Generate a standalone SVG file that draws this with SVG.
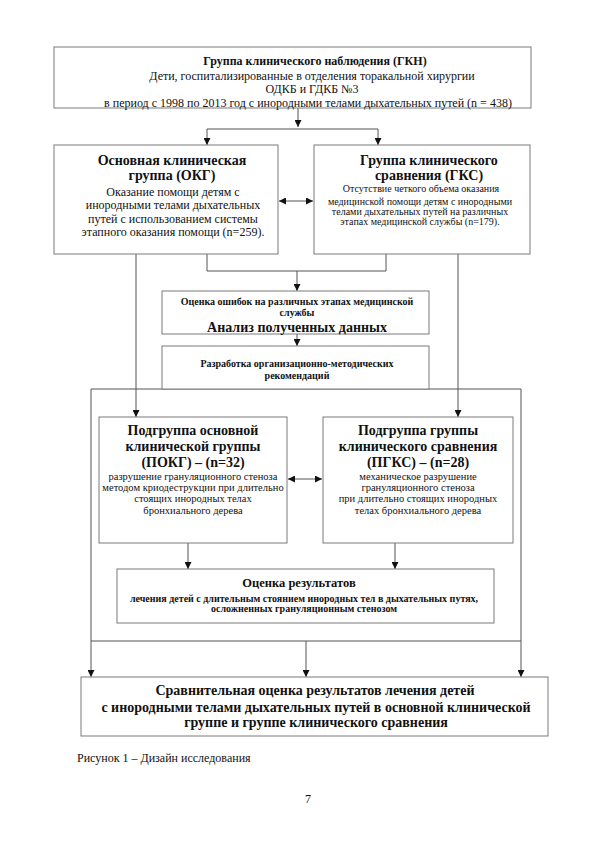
<svg xmlns="http://www.w3.org/2000/svg" width="594" height="841" viewBox="0 0 594 841">
<style>
.box{fill:#fff;stroke:#7a7a7a;stroke-width:1}
.ln{fill:none;stroke:#555;stroke-width:1}
.t{font-family:"Liberation Serif","Times New Roman",serif;fill:#111;text-anchor:middle}
.b{font-weight:bold}
.s12{font-size:12px}
.s125{font-size:12.5px}
.s10{font-size:10px}
.s105{font-size:10.5px}
.s14{font-size:14px}
</style>
<defs>
<marker id="ah" viewBox="0 0 8 8" refX="8" refY="4" markerWidth="7" markerHeight="7" markerUnits="userSpaceOnUse" orient="auto-start-reverse">
<path d="M0,0 L8,4 L0,8 z" fill="#111"/>
</marker>
</defs>
<rect width="594" height="841" fill="#fff"/>

<g id="connectors">
<path class="ln" d="M298,108 V127" marker-end="url(#ah)"/>
<path class="ln" d="M207,129 H378"/>
<path class="ln" d="M207,129 V145" marker-end="url(#ah)"/>
<path class="ln" d="M378,129 V145" marker-end="url(#ah)"/>
<path class="ln" d="M279,201 H313" marker-start="url(#ah)" marker-end="url(#ah)"/>
<path class="ln" d="M207,254 V271 H386 V254"/>
<path class="ln" d="M297,271 V291" marker-end="url(#ah)"/>
<path class="ln" d="M297,334 V346" marker-end="url(#ah)"/>
<path class="ln" d="M136,254 V417" marker-end="url(#ah)"/>
<path class="ln" d="M458,254 V417" marker-end="url(#ah)"/>
<path class="ln" d="M91,389 H521"/>
<path class="ln" d="M91,389 V677" marker-end="url(#ah)"/>
<path class="ln" d="M521,389 V677" marker-end="url(#ah)"/>
<path class="ln" d="M91,641 H521"/>
<path class="ln" d="M306,641 V677" marker-end="url(#ah)"/>
<path class="ln" d="M288,479 H322" marker-start="url(#ah)" marker-end="url(#ah)"/>
<path class="ln" d="M188,543 V569" marker-end="url(#ah)"/>
<path class="ln" d="M395,543 V569" marker-end="url(#ah)"/>
</g>

<g id="gkn">
<rect class="box" x="54" y="47" width="477" height="61"/>
<text class="t b s12" x="315" y="65">Группа клинического наблюдения (ГКН)</text>
<text class="t s12" x="312" y="80">Дети, госпитализированные в отделения торакальной хирургии</text>
<text class="t s12" x="312" y="93">ОДКБ и ГДКБ №3</text>
<text class="t s12" x="308" y="106.5">в период с 1998 по 2013 год с инородными телами дыхательных путей (n = 438)</text>
</g>

<g id="okg">
<rect class="box" x="54" y="145" width="224" height="109"/>
<text class="t b s14" x="172" y="165">Основная клиническая</text>
<text class="t b s14" x="172" y="180">группа (ОКГ)</text>
<text class="t s12" x="173" y="196">Оказание помощи детям с</text>
<text class="t s12" x="173" y="209">инородными телами дыхательных</text>
<text class="t s12" x="173" y="222.5">путей с использованием системы</text>
<text class="t s12" x="173" y="235.5">этапного оказания помощи (n=259).</text>
</g>

<g id="gks">
<rect class="box" x="314" y="145" width="216" height="109"/>
<text class="t b s14" x="429" y="165">Группа клинического</text>
<text class="t b s14" x="429" y="180">сравнения (ГКС)</text>
<text class="t s10" x="421" y="191.5">Отсутствие четкого объема оказания</text>
<text class="t s10" x="420" y="204.5">медицинской помощи детям с инородными</text>
<text class="t s10" x="420" y="214.5">телами дыхательных путей на различных</text>
<text class="t s10" x="420" y="225">этапах медицинской службы (n=179).</text>
</g>

<g id="errors">
<rect class="box" x="162" y="291" width="267" height="43"/>
<text class="t b s10" x="297" y="305">Оценка ошибок на различных этапах медицинской</text>
<text class="t b s10" x="297" y="316">службы</text>
<text class="t b s14" x="297" y="331.5">Анализ полученных данных</text>
</g>

<g id="recommendations">
<rect class="box" x="162" y="346" width="267" height="43"/>
<text class="t b s10" x="297" y="367">Разработка организационно-методических</text>
<text class="t b s10" x="297" y="379">рекомендаций</text>
</g>

<g id="pokg">
<rect class="box" x="99" y="417" width="188" height="126"/>
<text class="t b s14" x="193" y="434.5">Подгруппа основной</text>
<text class="t b s14" x="193" y="451">клинической группы</text>
<text class="t b s14" x="193" y="466.5">(ПОКГ) – (n=32)</text>
<text class="t s105" x="193" y="479.5">разрушение грануляционного стеноза</text>
<text class="t s105" x="193" y="491">методом криодеструкции при длительно</text>
<text class="t s105" x="193" y="502">стоящих инородных телах</text>
<text class="t s105" x="193" y="513.5">бронхиального дерева</text>
</g>

<g id="pgks">
<rect class="box" x="323" y="417" width="190" height="126"/>
<text class="t b s14" x="418" y="434.5">Подгруппа группы</text>
<text class="t b s14" x="418" y="451">клинического сравнения</text>
<text class="t b s14" x="418" y="466.5">(ПГКС) – (n=28)</text>
<text class="t s105" x="418" y="479.5">механическое разрушение</text>
<text class="t s105" x="418" y="491">грануляционного стеноза</text>
<text class="t s105" x="418" y="502">при длительно стоящих инородных</text>
<text class="t s105" x="418" y="513.5">телах бронхиального дерева</text>
</g>

<g id="results">
<rect class="box" x="117" y="569" width="377" height="54"/>
<text class="t b s125" x="299" y="587">Оценка результатов</text>
<text class="t b s10" x="304" y="602">лечения детей с длительным стоянием инородных тел в дыхательных путях,</text>
<text class="t b s10" x="304" y="612">осложненных грануляционным стенозом</text>
</g>

<g id="comparison">
<rect class="box" x="81" y="677" width="467" height="59"/>
<text class="t b s14" x="315" y="695">Сравнительная оценка результатов лечения детей</text>
<text class="t b s14" x="316" y="711.5">с инородными телами дыхательных путей в основной клинической</text>
<text class="t b s14" x="316" y="726.5">группе и группе клинического сравнения</text>
</g>

<text class="t s12" x="77" y="762" style="text-anchor:start">Рисунок 1 – Дизайн исследования</text>
<text class="t s12" x="308" y="803">7</text>
</svg>
